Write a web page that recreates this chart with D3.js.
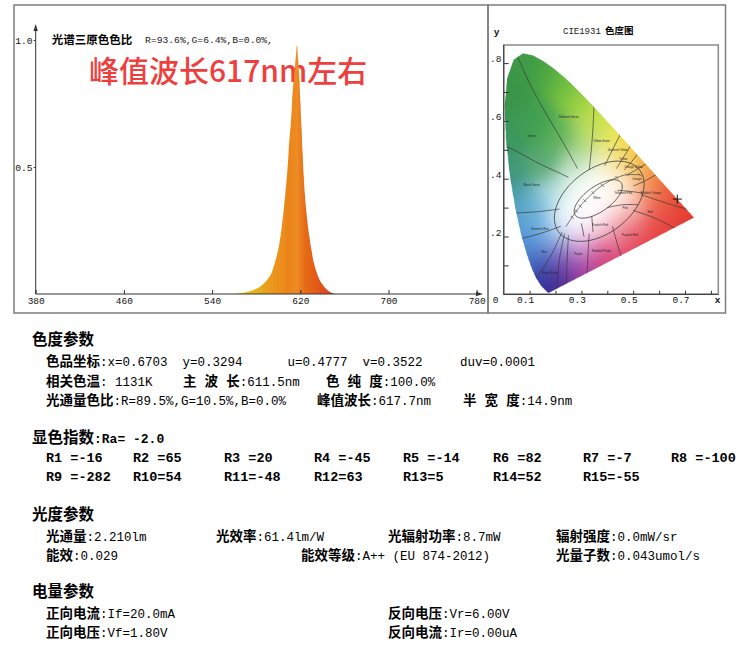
<!DOCTYPE html>
<html><head><meta charset="utf-8">
<script src="https://cdn.jsdelivr.net/npm/d3@7"></script>
<style>
html,body{margin:0;padding:0;background:#fff;}
svg{display:block;}
text{white-space:pre;}
.lab{font-family:"Noto Sans CJK SC";font-weight:700;font-size:13.5px;}
.val{font-family:"Liberation Mono";font-size:12.5px;}
.hdr{font-family:"Noto Sans CJK SC";font-weight:700;font-size:15.5px;}
.bval{font-family:"Liberation Mono";font-weight:700;font-size:13px;}
</style></head><body>
<svg id="c" width="750" height="647"></svg>
<script>
// ---------------- DATA ----------------
const wavelengths = [560,562,564,566,568,570,572,574,576,578,580,582,584,586,588,590,592,594,596,598,600,602,604,606,607,608,609,610,611,612,613,614,615,616,617,618,619,620,621,622,623,624,625,626,628,630,632,634,636,638,640,642,644,646,648,650,652];
const intensity   = [0.000,0.002,0.003,0.004,0.005,0.007,0.009,0.011,0.014,0.017,0.021,0.025,0.031,0.038,0.046,0.056,0.068,0.084,0.110,0.140,0.175,0.225,0.295,0.375,0.420,0.470,0.530,0.600,0.650,0.710,0.790,0.840,0.890,0.935,0.980,0.925,0.855,0.760,0.660,0.560,0.470,0.400,0.345,0.300,0.232,0.175,0.128,0.096,0.070,0.051,0.038,0.027,0.018,0.011,0.006,0.003,0.000];
const xTickValues = [380,460,540,620,700,780];
const yTickValues = [0.5,1.0];
const spectrumTitle = "光谱三原色色比";
const spectrumRGB = "R=93.6%,G=6.4%,B=0.0%,";
const annotation = "峰值波长617nm左右";

// CIE 1931 spectral locus
const locusNm = [380,400,420,430,440,450,460,470,475,480,485,490,495,500,505,510,515,520,525,530,535,540,545,550,555,560,565,570,575,580,585,590,595,600,605,610,620,630,640,650,660,680,700];
const locusX = [0.1741,0.1733,0.1714,0.1689,0.1644,0.1566,0.1440,0.1241,0.1096,0.0913,0.0687,0.0454,0.0235,0.0082,0.0039,0.0139,0.0389,0.0743,0.1142,0.1547,0.1929,0.2296,0.2658,0.3016,0.3373,0.3731,0.4087,0.4441,0.4788,0.5125,0.5448,0.5752,0.6029,0.6270,0.6482,0.6658,0.6915,0.7079,0.7190,0.7260,0.7300,0.7334,0.7347];
const locusY = [0.0050,0.0048,0.0051,0.0069,0.0109,0.0177,0.0297,0.0578,0.0868,0.1327,0.2007,0.2950,0.4127,0.5384,0.6548,0.7502,0.8120,0.8338,0.8262,0.8059,0.7816,0.7543,0.7243,0.6923,0.6589,0.6245,0.5896,0.5547,0.5202,0.4866,0.4544,0.4242,0.3965,0.3725,0.3514,0.3340,0.3083,0.2920,0.2809,0.2740,0.2700,0.2666,0.2653];
const planckX = [0.2399,0.2565,0.2637,0.2807,0.2952,0.3135,0.3451,0.3805,0.4369,0.4770,0.5267];
const planckY = [0.2341,0.2564,0.2665,0.2883,0.3048,0.3237,0.3516,0.3768,0.4041,0.4137,0.4133];
const samplePoint = [0.6703, 0.3294];
const cieXTicks = [0.1,0.2,0.3,0.4,0.5,0.6,0.7,0.8];
const cieXLabels = [0.1,0.3,0.5,0.7];
const cieYTicks = [0.1,0.2,0.3,0.4,0.5,0.6,0.7,0.8];
const cieYLabels = [0.2,0.4,0.6,0.8];
const cieTitleA = "CIE1931";
const cieTitleB = "色度图";

// Kelly colour-region boundaries (chromaticity coordinates)
const regionLines = [
  [[0.045,0.84],[0.10,0.73],[0.16,0.63],[0.22,0.54],[0.27,0.46],[0.285,0.435]],
  [[-0.01,0.52],[0.06,0.49],[0.12,0.46],[0.19,0.43],[0.25,0.405]],
  [[0.35,0.70],[0.345,0.58],[0.335,0.47],[0.33,0.43]],
  [[0.46,0.57],[0.42,0.50],[0.39,0.445]],
  [[0.50,0.53],[0.46,0.47],[0.435,0.435]],
  [[0.53,0.50],[0.49,0.455],[0.465,0.43]],
  [[0.565,0.46],[0.51,0.43],[0.48,0.415]],
  [[0.60,0.42],[0.54,0.39],[0.50,0.375]],
  [[0.53,0.345],[0.62,0.318],[0.74,0.285]],
  [[0.50,0.29],[0.58,0.265],[0.68,0.22]],
  [[0.42,0.235],[0.44,0.17],[0.465,0.10]],
  [[0.33,0.21],[0.325,0.13],[0.32,0.04]],
  [[0.25,0.205],[0.245,0.12],[0.24,0.00]],
  [[0.235,0.21],[0.215,0.12],[0.205,0.00]],
  [[0.225,0.215],[0.18,0.13],[0.12,0.05]],
  [[0.03,0.185],[0.14,0.21],[0.22,0.235]],
  [[0.00,0.28],[0.12,0.285],[0.215,0.295]],
  [[0.44,0.36],[0.50,0.355],[0.535,0.35]],
  [[0.40,0.30],[0.46,0.31],[0.52,0.31]],
  [[0.34,0.27],[0.345,0.215]],
  [[0.30,0.245],[0.31,0.20]]
];
const regionNames = [
  ["Green",0.108,0.545],["Yellowish Green",0.250,0.609],["Yellow Green",0.378,0.528],
  ["Greenish Yellow",0.44,0.497],["Yellow",0.462,0.465],["Orange Yellow",0.501,0.436],
  ["Orange",0.514,0.396],["Reddish Orange",0.568,0.346],["Red",0.565,0.282],
  ["Yellowish Pink",0.462,0.346],["Pink",0.469,0.295],["Purplish Pink",0.372,0.236],
  ["Purplish Red",0.488,0.202],["Reddish Purple",0.378,0.147],["Purple",0.288,0.136],
  ["Bluish Purple",0.179,0.070],["Blue",0.157,0.144],["Greenish Blue",0.140,0.222],
  ["Bluish Green",0.108,0.375],["White",0.36,0.33]
];
// ellipses: cx, cy, a, b, angle(deg)
const regionEllipses = [[0.369,0.322,0.19,0.115,31],[0.365,0.330,0.105,0.045,31]];

// colour field anchors [x, y, colour]
const fieldAnchors = [
 [0.07,0.80,"#3c9848"],[0.03,0.70,"#3a9448"],[0.15,0.78,"#48a444"],[0.23,0.73,"#6cbc40"],
 [0.30,0.67,"#9cd240"],[0.37,0.61,"#cfe54a"],[0.44,0.54,"#eee648"],[0.49,0.49,"#f6d03c"],
 [0.54,0.45,"#f4aa34"],[0.59,0.40,"#f07c30"],[0.64,0.35,"#e95030"],[0.70,0.29,"#e63a32"],
 [0.01,0.55,"#3c9660"],[0.02,0.42,"#40987a"],[0.04,0.32,"#4a9cb0"],[0.07,0.24,"#5a9cd8"],
 [0.11,0.15,"#4c84d0"],[0.14,0.08,"#3654b0"],[0.17,0.02,"#2a2288"],[0.22,0.04,"#5a2c9c"],
 [0.30,0.08,"#a8389c"],[0.40,0.13,"#d83c78"],[0.50,0.19,"#e44454"],[0.60,0.24,"#e63c3c"],
 [0.12,0.60,"#40a050"],[0.15,0.45,"#58a870"],[0.22,0.55,"#5cb058"],[0.28,0.45,"#b4dcb4"],
 [0.32,0.55,"#b8dc70"],[0.40,0.47,"#f4f0c0"],[0.48,0.42,"#f8dc98"],[0.55,0.36,"#f4a080"],
 [0.60,0.30,"#ec6050"],[0.50,0.28,"#f4a8a8"],[0.42,0.22,"#f2aabb"],[0.30,0.17,"#e4b0e0"],
 [0.22,0.12,"#8060c0"],[0.18,0.20,"#88c0ec"],[0.12,0.30,"#74bcdc"],[0.20,0.35,"#bce2e6"],
 [0.33,0.33,"#ffffff"],[0.38,0.36,"#ffffff"],[0.28,0.28,"#ffffff"],[0.43,0.38,"#fffaf0"],
 [0.30,0.38,"#f8fff8"],[0.36,0.27,"#fff8fa"],[0.25,0.25,"#fafcff"],[0.46,0.34,"#fff2ee"]
];

// text parameters
const chromaHeader = "色度参数";
const chromaRows = [
  [["色品坐标", ":x=0.6703  y=0.3294      u=0.4777  v=0.3522     duv=0.0001"]],
  [["相关色温", ": 1131K"], ["主 波 长", ":611.5nm"], ["色 纯 度", ":100.0%"]],
  [["光通量色比", ":R=89.5%,G=10.5%,B=0.0%"], ["峰值波长", ":617.7nm"], ["半 宽 度", ":14.9nm"]]
];
const criHeader = "显色指数";
const criValue = ":Ra= -2.0";
const criNames = ["R1","R2","R3","R4","R5","R6","R7","R8","R9","R10","R11","R12","R13","R14","R15"];
const criValues = [-16,65,20,-45,-14,82,-7,-100,-282,54,-48,63,5,52,-55];
const photoHeader = "光度参数";
const photoRows = [
  [["光通量", ":2.210lm"], ["光效率", ":61.4lm/W"], ["光辐射功率", ":8.7mW"], ["辐射强度", ":0.0mW/sr"]],
  [["能效", ":0.029"], ["能效等级", ":A++ (EU 874-2012)"], ["光量子数", ":0.043umol/s"]]
];
const elecHeader = "电量参数";
const elecRows = [
  [["正向电流", ":If=20.0mA"], ["反向电压", ":Vr=6.00V"]],
  [["正向电压", ":Vf=1.80V"], ["反向电流", ":Ir=0.00uA"]]
];

// ---------------- LAYOUT ----------------
const L = {
  chromaHeaderY:339.5, chromaRowY:[360.4,380,399.6], chromaCols:[[46],[46,183,326],[46,317,463]],
  criY:437, criRowY:[457,476], criCols:[46,133,224,314,403,493,583,671],
  photoHeaderY:514, photoRowY:[534.9,554.5], photoCols:[[46,216,388,556],[46,301,556]],
  elecHeaderY:591, elecRowY:[611.9,631.5], elecCols:[[46,388],[46,388]],
  headerX:32
};

const svg = d3.select('#c');
const defs = svg.append('defs');

// frames
svg.append('rect').attr('x',14).attr('y',5).attr('width',474).attr('height',308)
  .attr('fill','none').attr('stroke','#7d7d7d').attr('stroke-width',1.5);
svg.append('rect').attr('x',488).attr('y',5).attr('width',237.5).attr('height',308)
  .attr('fill','none').attr('stroke','#7d7d7d').attr('stroke-width',1.5);

// ---------------- SPECTRUM ----------------
const x = d3.scaleLinear().domain([380,780]).range([35.7,476.7]);
const y = d3.scaleLinear().domain([0,1]).range([294,40]);
const colorStopNm = [560,575,590,600,610,617,625,635,645,652];
const colorStopHex = ["#f2dc2a","#e8bc1c","#eba21e","#f0921e","#f2891c","#f49126","#ea6c18","#e55a18","#e04a22","#e04632"];
const nmColor = d3.scaleLinear().domain(colorStopNm).range(colorStopHex).interpolate(d3.interpolateRgb);

// title + annotation
svg.append('text').attr('x',51.7).attr('y',40).attr('dy','0.35em')
  .style('font-family','Noto Sans CJK SC').style('font-weight',700).style('font-size','11.5px').text(spectrumTitle);
svg.append('text').attr('x',145).attr('y',40).attr('dy','0.35em')
  .style('font-family','Liberation Mono').style('font-size','9.7px').attr('fill','#222').text(spectrumRGB);
svg.append('text').attr('x',89).attr('y',71).attr('dy','0.36em')
  .style('font-family','Noto Sans CJK SC').style('font-weight',500).style('font-size','30px')
  .attr('fill','#ef3e3e').text(annotation);

const spec = wavelengths.map((w,i)=>({w, v:intensity[i]}));
const gx0 = x(wavelengths[0]), gx1 = x(wavelengths[wavelengths.length-1]);
const grad = defs.append('linearGradient').attr('id','specGrad').attr('gradientUnits','userSpaceOnUse')
  .attr('x1',gx0).attr('x2',gx1).attr('y1',0).attr('y2',0);
wavelengths.forEach(w=>{
  grad.append('stop').attr('offset',(x(w)-gx0)/(gx1-gx0)).attr('stop-color',nmColor(w));
});
const area = d3.area().x(d=>x(d.w)).y0(y(0)).y1(d=>y(d.v)).curve(d3.curveMonotoneX);
svg.append('path').datum(spec).attr('d',area).attr('fill','url(#specGrad)');
// vertical streaks
svg.append('g').selectAll('line').data(spec).join('line')
  .attr('x1',d=>x(d.w)).attr('x2',d=>x(d.w)).attr('y1',y(0)).attr('y2',d=>y(d.v)+1)
  .attr('stroke',d=>d3.rgb(nmColor(d.w)).darker(0.5)).attr('stroke-opacity',0.3).attr('stroke-width',0.6);

// axes
const axisColor = '#333';
const xAxis = d3.axisBottom(x).tickValues(xTickValues).tickSizeInner(-4).tickSizeOuter(0).tickPadding(3).tickFormat(d3.format('d'));
const gxa = svg.append('g').attr('transform',`translate(0,${y(0)})`).call(xAxis);
gxa.select('.domain').remove();
gxa.selectAll('line').attr('stroke',axisColor);
gxa.selectAll('text').style('font-family','Liberation Mono').style('font-size','9.5px').attr('fill','#111');
const yAxis = d3.axisLeft(y).tickValues(yTickValues).tickSizeInner(2).tickSizeOuter(0).tickPadding(1).tickFormat(d3.format('.1f'));
const gya = svg.append('g').attr('transform',`translate(${x(380)},0)`).call(yAxis);
gya.select('.domain').remove();
gya.selectAll('line').attr('stroke',axisColor);
gya.selectAll('text').style('font-family','Liberation Mono').style('font-size','9.7px').attr('fill','#111');
// axis lines with arrows
svg.append('line').attr('x1',x(380)).attr('x2',x(380)).attr('y1',y(0)).attr('y2',27).attr('stroke',axisColor).attr('stroke-width',1);
svg.append('path').attr('d',`M${x(380)},24 L${x(380)-2.2},31 L${x(380)+2.2},31 Z`).attr('fill',axisColor);
svg.append('line').attr('x1',x(380)).attr('x2',480).attr('y1',y(0)).attr('y2',y(0)).attr('stroke',axisColor).attr('stroke-width',1.2);
svg.append('path').attr('d',`M483,${y(0)} L476,${y(0)-2.2} L476,${y(0)+2.2} Z`).attr('fill',axisColor);

// ---------------- CIE ----------------
const cx = d3.scaleLinear().domain([0,1]).range([503.7,503.7+259]);
const cy = d3.scaleLinear().domain([0,1]).range([294.3,294.3-289]);
const boxX0 = cx(0), boxX1 = 718.3, boxY0 = 45, boxY1 = cy(0);

const poly = locusX.map((v,i)=>[v, locusY[i]]);
// colour field on canvas
(function(){
  const S = 3;
  const W = Math.round((boxX1-boxX0)*S), H = Math.round((boxY1-boxY0)*S);
  const cv = document.createElement('canvas'); cv.width = W; cv.height = H;
  const ctx = cv.getContext('2d');
  const im = ctx.createImageData(W,H);
  const an = fieldAnchors.map(a=>{const c=d3.rgb(a[2]);return {x:a[0],y:a[1],r:c.r,g:c.g,b:c.b};});
  const sig2 = 2*0.05*0.05;
  for(let j=0;j<H;j++){
    const dy = cy.invert(boxY0 + (j+0.5)/S);
    for(let i=0;i<W;i++){
      const dx = cx.invert(boxX0 + (i+0.5)/S);
      if(!d3.polygonContains(poly,[dx,dy])) continue;
      let sw=0,r=0,g=0,b=0;
      for(const a of an){
        const d2=(dx-a.x)*(dx-a.x)+(dy-a.y)*(dy-a.y);
        const w=Math.exp(-d2/sig2)+1e-12;
        sw+=w; r+=w*a.r; g+=w*a.g; b+=w*a.b;
      }
      const k=(j*W+i)*4;
      im.data[k]=r/sw; im.data[k+1]=g/sw; im.data[k+2]=b/sw; im.data[k+3]=255;
    }
  }
  ctx.putImageData(im,0,0);
  svg.append('image').attr('x',boxX0).attr('y',boxY0).attr('width',boxX1-boxX0).attr('height',boxY1-boxY0)
    .attr('preserveAspectRatio','none').attr('href',cv.toDataURL());
})();

defs.append('clipPath').attr('id','locusClip').append('path')
  .attr('d', d3.line().x(d=>cx(d[0])).y(d=>cy(d[1]))(poly)+'Z');
const reg = svg.append('g').attr('clip-path','url(#locusClip)');
const pline = d3.line().x(d=>cx(d[0])).y(d=>cy(d[1])).curve(d3.curveCatmullRom);
reg.selectAll('path.rl').data(regionLines).join('path').attr('class','rl')
  .attr('d',d=>pline(d)).attr('fill','none').attr('stroke','#3a3a3a').attr('stroke-width',0.7);
regionEllipses.forEach(e=>{
  const [ex,ey,a,b,ang]=e; const t=ang*Math.PI/180; const pts=[];
  for(let k=0;k<=90;k++){const u=k/90*2*Math.PI; const px=a*Math.cos(u), py=b*Math.sin(u);
    pts.push([ex+px*Math.cos(t)-py*Math.sin(t), ey+px*Math.sin(t)+py*Math.cos(t)]);}
  reg.append('path').attr('d',d3.line().x(d=>cx(d[0])).y(d=>cy(d[1]))(pts))
    .attr('fill','none').attr('stroke','#3a3a3a').attr('stroke-width',0.8);
});
// planckian locus
const planck = planckX.map((v,i)=>[v,planckY[i]]);
reg.append('path').attr('d',d3.line().x(d=>cx(d[0])).y(d=>cy(d[1])).curve(d3.curveCatmullRom)(planck))
  .attr('fill','none').attr('stroke','#444').attr('stroke-width',0.7);
reg.selectAll('path.pk').data(planck.slice(2)).join('path').attr('class','pk')
  .attr('d',d=>`M${cx(d[0])-1.5},${cy(d[1])-1.5}L${cx(d[0])+1.5},${cy(d[1])+1.5}`)
  .attr('stroke','#333').attr('stroke-width',0.6);
reg.selectAll('text').data(regionNames).join('text')
  .attr('x',d=>cx(d[1])).attr('y',d=>cy(d[2])).attr('text-anchor','middle')
  .style('font-family','Liberation Sans').style('font-size','2.8px').attr('fill','#222').text(d=>d[0]);

// box + axes
svg.append('rect').attr('x',boxX0).attr('y',boxY0).attr('width',boxX1-boxX0).attr('height',boxY1-boxY0)
  .attr('fill','none').attr('stroke','#8a8a8a').attr('stroke-width',1.5);
const cxAxis = d3.axisBottom(cx).tickValues(cieXTicks).tickSizeInner(-3.5).tickSizeOuter(0).tickFormat('');
const gcx = svg.append('g').attr('transform',`translate(0,${boxY1})`).call(cxAxis);
gcx.select('.domain').remove();
gcx.selectAll('line').attr('stroke','#333');
svg.append('line').attr('x1',boxX0).attr('x2',boxX1).attr('y1',boxY1).attr('y2',boxY1).attr('stroke','#444').attr('stroke-width',1.2);
const cyAxis = d3.axisLeft(cy).tickValues(cieYTicks).tickSizeInner(-5).tickSizeOuter(0).tickFormat('');
const gcy = svg.append('g').attr('transform',`translate(${boxX0},0)`).call(cyAxis);
gcy.select('.domain').remove();
gcy.selectAll('line').attr('stroke','#333');
svg.append('line').attr('x1',boxX0).attr('x2',boxX0).attr('y1',boxY0).attr('y2',boxY1).attr('stroke','#444').attr('stroke-width',1.2);

const lblStyle = s=>s.style('font-family','Liberation Mono').style('font-size','9.5px').attr('fill','#111');
svg.append('g').selectAll('text').data(cieXLabels).join('text')
  .attr('x',d=>cx(d)-4).attr('y',300).attr('dy','0.35em').attr('text-anchor','middle')
  .text(d=>d3.format('.1f')(d)).call(lblStyle);
svg.append('g').selectAll('text').data(cieYLabels).join('text')
  .attr('x',501.5).attr('y',d=>cy(d)-4).attr('dy','0.35em').attr('text-anchor','end')
  .text(d=>d3.format('.1f')(d).replace(/^0/,'')).call(lblStyle);
svg.append('text').attr('x',495.5).attr('y',300).attr('dy','0.35em').attr('text-anchor','middle').text('0').call(lblStyle);
svg.append('text').attr('x',717.5).attr('y',300).attr('dy','0.35em').attr('text-anchor','middle').style('font-weight',700).text('x').call(lblStyle);
svg.append('text').attr('x',496.7).attr('y',31.5).attr('dy','0.35em').attr('text-anchor','middle').text('y').call(lblStyle).style('font-weight',700);
svg.append('text').attr('x',563).attr('y',31).attr('dy','0.35em').style('font-family','Liberation Mono').style('font-size','9px').attr('fill','#222').text(cieTitleA);
svg.append('text').attr('x',605).attr('y',31).attr('dy','0.35em').style('font-family','Noto Sans CJK SC').style('font-weight',700).style('font-size','9.5px').text(cieTitleB);

// sample point
const spx = cx(samplePoint[0]), spy = cy(samplePoint[1]);
svg.append('path').attr('d',`M${spx-4.5},${spy}H${spx+4.5}M${spx},${spy-4.5}V${spy+4.5}`).attr('stroke','#111').attr('stroke-width',1);

// ---------------- TEXT BLOCK ----------------
function header(y, txt, extra){
  const t = svg.append('text').attr('x',L.headerX).attr('y',y).attr('dy','0.35em');
  t.append('tspan').attr('class','hdr').text(txt);
  if(extra) t.append('tspan').attr('class','bval').text(extra);
}
function rows(ys, data, cols){
  data.forEach((r,ri)=>{
    r.forEach(([lab,val],k)=>{
      const t = svg.append('text').attr('x',cols[ri][k]).attr('y',ys[ri]).attr('dy','0.35em');
      t.append('tspan').attr('class','lab').style('word-spacing','5px').text(lab);
      t.append('tspan').attr('class','val').text(val);
    });
  });
}
header(L.chromaHeaderY, chromaHeader);
rows(L.chromaRowY, chromaRows, L.chromaCols);
header(L.criY, criHeader, criValue);
criNames.forEach((n,i)=>{
  const row = Math.floor(i/8), col = i%8;
  svg.append('text').attr('class','bval').attr('x',L.criCols[col]).attr('y',L.criRowY[row]).attr('dy','0.35em')
    .style('font-size','13.5px').text(n.padEnd(3,' ')+'='+criValues[i]);
});
header(L.photoHeaderY, photoHeader);
rows(L.photoRowY, photoRows, L.photoCols);
header(L.elecHeaderY, elecHeader);
rows(L.elecRowY, elecRows, L.elecCols);
</script>
</body></html>
